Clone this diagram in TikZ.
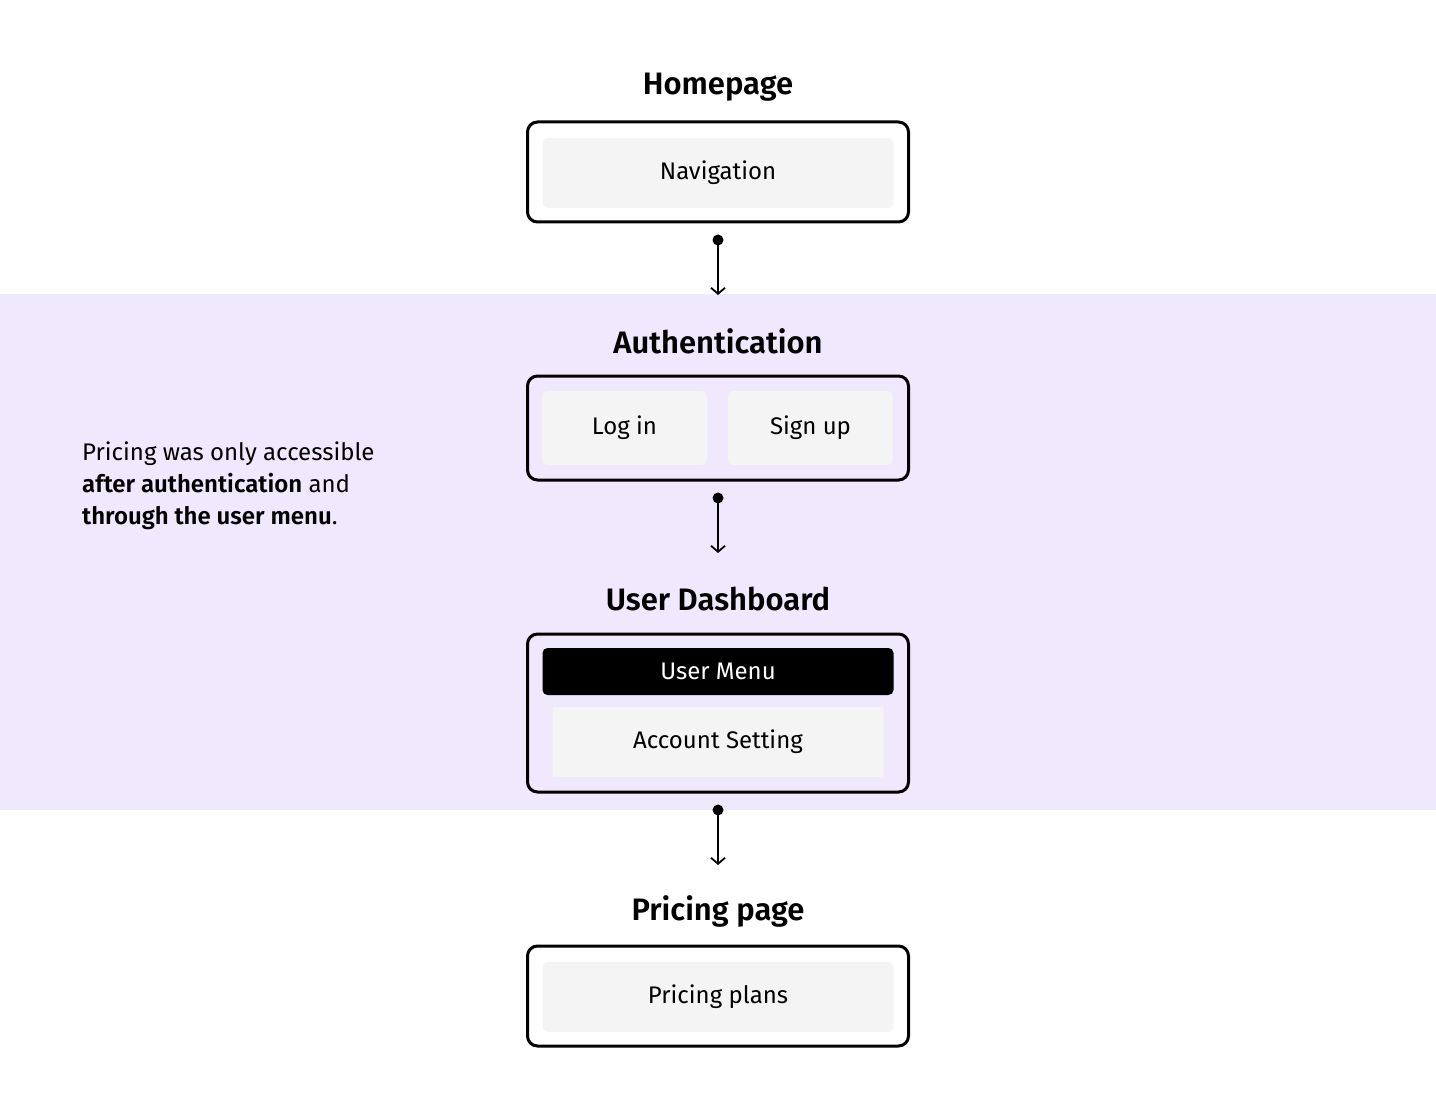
\documentclass[tikz,border=0pt]{standalone}
\usepackage{fontspec}
\setmainfont{Fira Sans}[BoldFont={Fira Sans SemiBold}]
\usetikzlibrary{positioning,arrows.meta}
\definecolor{band}{HTML}{F0E8FD}
\definecolor{cell}{HTML}{F4F4F4}
\begin{document}
\begin{tikzpicture}[x=1pt,y=-1pt,
    title/.style={font=\fontsize{31}{36}\selectfont\bfseries},
    frame/.style={draw, line width=3pt, rounded corners=10pt, minimum width=381pt},
    item/.style={fill=cell, rounded corners=5pt, font=\fontsize{24}{28}\selectfont},
    link/.style={line width=1.8pt, -{Straight Barb[length=6pt,width=14pt]}},
    dot/.style={circle, fill, inner sep=0pt, minimum size=11pt}]

    % Background
    \useasboundingbox (0,0) rectangle (1436,1110);
    \fill[band] (0,294) rectangle (1436,810);

    % Homepage
    \node [title] (home) at (718,87) {Homepage};
    \node [frame, minimum height=100pt] (homebox) at (718,172) {};
    \node [item, minimum width=351pt, minimum height=70pt] (nav) at (718,173) {Navigation};

    % Authentication
    \node [title] (auth) at (718,341) {Authentication};
    \node [frame, minimum height=104pt] (authbox) at (718,428) {};
    \node [item, minimum width=165pt, minimum height=74pt] (login) at (624.5,428) {Log in};
    \node [item, minimum width=165pt, minimum height=74pt] (signup) at (810.5,428) {Sign up};

    % User Dashboard
    \node [title] (dash) at (718,599) {User Dashboard};
    \node [frame, minimum height=158pt] (dashbox) at (718,713) {};
    \node [fill=black, text=white, rounded corners=5pt, minimum width=351pt, minimum height=47pt,
        font=\fontsize{24}{28}\selectfont] (menu) at (718,671.5) {User Menu};
    \node [item, rounded corners=2pt, minimum width=331pt, minimum height=70pt] (account) at (718,742) {Account Setting};

    % Pricing page
    \node [title] (pricing) at (718,911) {Pricing page};
    \node [frame, minimum height=100pt] (pricebox) at (718,996) {};
    \node [item, minimum width=351pt, minimum height=70pt] (plans) at (718,997) {Pricing plans};

    % Note
    \node [anchor=base west, align=left, inner sep=0pt, font=\fontsize{24}{32}\selectfont] (note) at (82,524)
        {Pricing was only accessible\\ \textbf{after authentication} and\\ \textbf{through the user menu}.};

    % Links
    \node [dot] (d1) at (718,240) {};
    \node [dot] (d2) at (718,498) {};
    \node [dot] (d3) at (718,810) {};
    \coordinate (e1) at (718,295);
    \coordinate (e2) at (718,553);
    \coordinate (e3) at (718,865);
    \draw [link] (d1.center) -- (e1);
    \draw [link] (d2.center) -- (e2);
    \draw [link] (d3.center) -- (e3);

\end{tikzpicture}
\end{document}
